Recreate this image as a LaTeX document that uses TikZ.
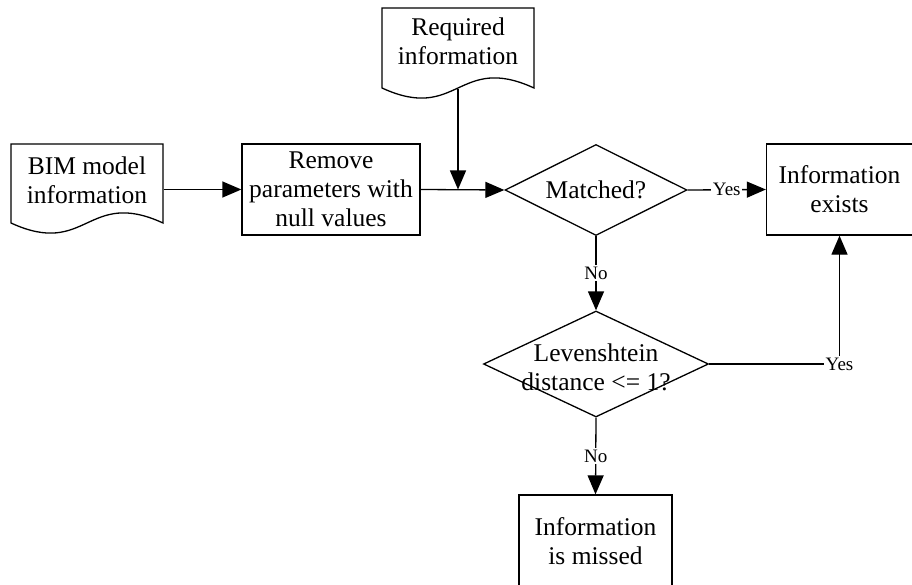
\documentclass[tikz,border=0pt]{standalone}
\usepackage{fontspec}
\setmainfont{Liberation Serif}
\usetikzlibrary{arrows.meta,shapes.geometric}
\begin{document}
\begin{tikzpicture}[x=1pt,y=-1pt,line width=1.3pt,
  every node/.style={font=\fontsize{25.5}{29}\selectfont,align=center},
  box/.style={draw,inner sep=0pt},
  dia/.style={draw,diamond,inner sep=0pt},
  ghost/.style={draw=none,inner sep=0pt},
  arr/.style={-{Triangle[length=19pt,width=16pt]}},
  lbl/.style={font=\fontsize{19}{21}\selectfont,fill=white,inner sep=1.5pt}]
\useasboundingbox (0,0) rectangle (912,585);
% document shapes
\draw (11,223) -- (11,144) -- (163,144) -- (163,223)
  .. controls (87,188) and (87,258) .. (11,223) -- cycle;
\draw (382,88) -- (382,8) -- (534,8) -- (534,88)
  .. controls (458,53) and (458,123) .. (382,88) -- cycle;
\node[ghost,minimum width=152pt,minimum height=79pt] (bim) at (87,183.5) {};
\node[ghost,minimum width=152pt,minimum height=80pt] (req) at (458,48) {};
\node (bimt) at (87,180) {BIM model\\information};
\node (reqt) at (458,41.5) {Required\\information};
% boxes
\node[box,minimum width=178pt,minimum height=91pt] (rem) at (331,189.5) {Remove\\parameters with\\null values};
\node[box,minimum width=146pt,minimum height=91pt] (exi) at (839.5,189.5) {Information\\exists};
\node[box,minimum width=153pt,minimum height=92pt] (mis) at (595.5,541) {Information\\is missed};
% decisions
\node[dia,minimum width=182pt,minimum height=91pt] (mat) at (596,190) {};
\node (matt) at (596,190) {Matched?};
\node[dia,minimum width=225pt,minimum height=106pt] (lev) at (596,364) {};
\node (levt) at (596,367) {Levenshtein\\distance <= 1?};
% connectors
\draw[arr] (bim.east |- rem.west) -- (rem.west);
\draw[arr] (rem.east) -- (mat.west);
\coordinate (join) at (req.south |- rem.east);
\draw[arr] (req.south) -- (join);
\draw[arr] (mat.east) -- node[lbl]{Yes} (exi.west);
\draw[arr] (mat.south) -- node[lbl]{No} (lev.north);
\draw[arr] (lev.east) -| node[lbl,pos=0.5]{Yes} (exi.south);
\draw[arr] (lev.south) -- node[lbl]{No} (mis.north);
\end{tikzpicture}
\end{document}
